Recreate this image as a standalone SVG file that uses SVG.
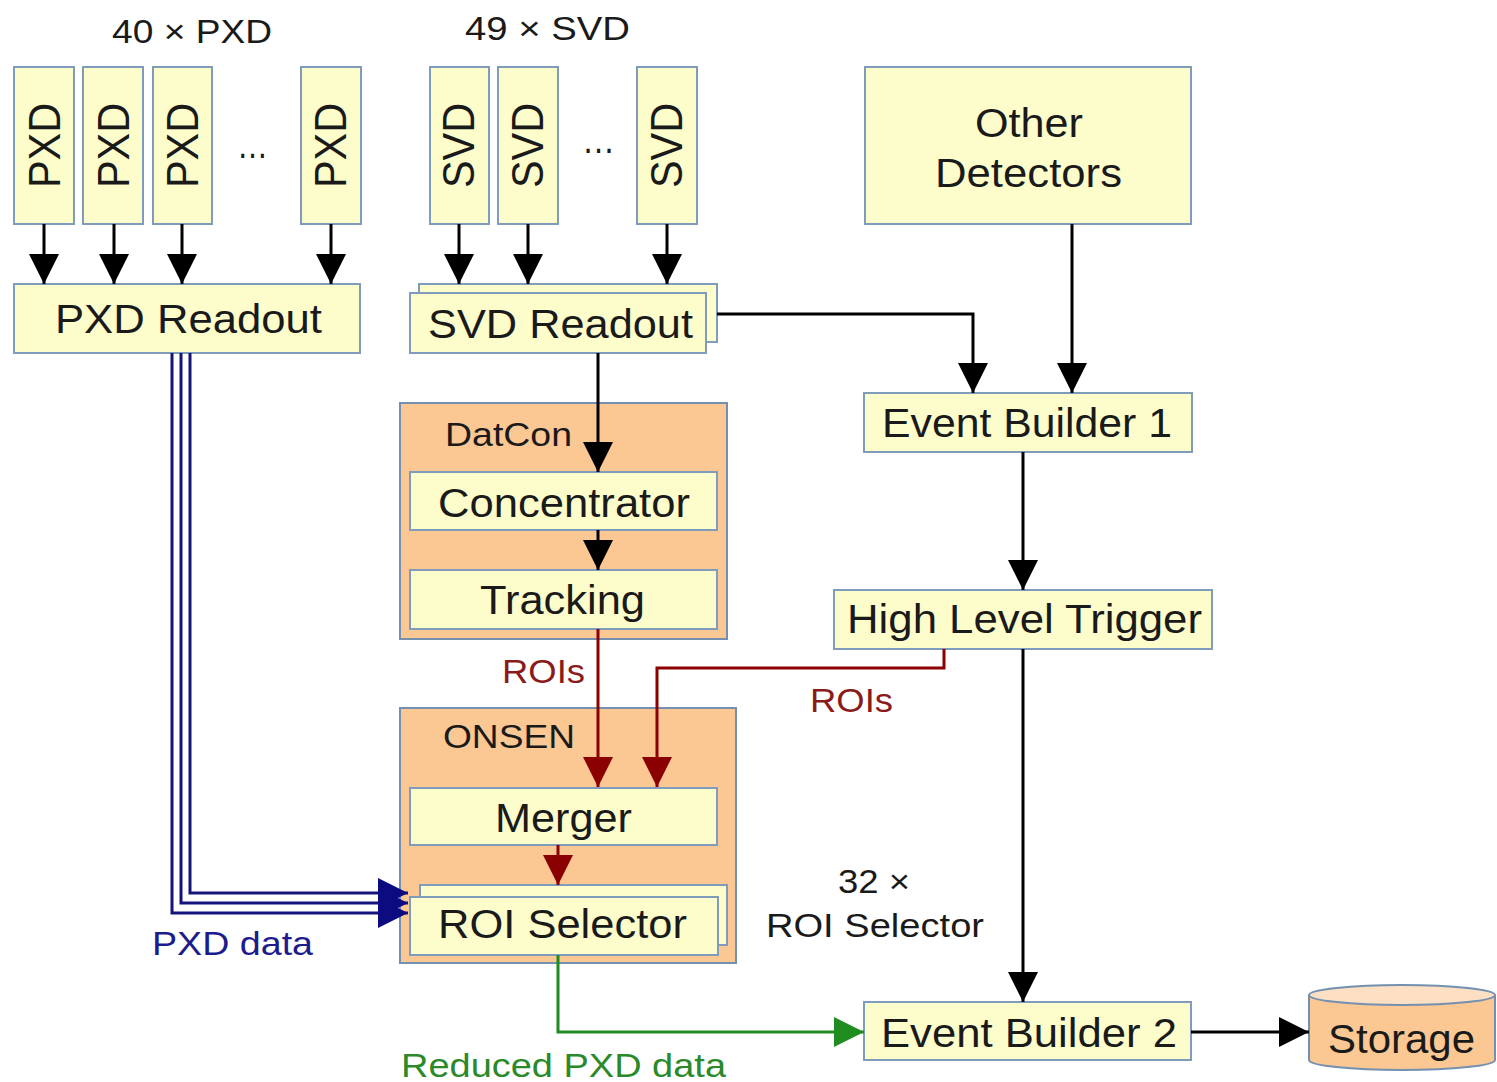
<svg xmlns="http://www.w3.org/2000/svg" width="1497" height="1082" viewBox="0 0 1497 1082">
<style>
.box{fill:#fdfdcb;stroke:#7f9cbc;stroke-width:2}
.grp{fill:#fbc792;stroke:#7390b0;stroke-width:2}
.t{font-family:"Liberation Sans",Arial,sans-serif;fill:#1a1a1a}
.lbl{font-size:41px}
.vt{font-size:45px}
.blk{fill:none;stroke:#000;stroke-width:3}
.red{fill:none;stroke:#8b0000;stroke-width:3}
.blu{fill:none;stroke:#14147a;stroke-width:3}
.grn{fill:none;stroke:#1e8c1e;stroke-width:3}
</style>
<defs>
<marker id="ab" markerUnits="userSpaceOnUse" markerWidth="30" markerHeight="30" refX="30" refY="15" orient="auto"><path d="M0,0 L30,15 L0,30 z" fill="#000"/></marker>
<marker id="ar" markerUnits="userSpaceOnUse" markerWidth="30" markerHeight="30" refX="30" refY="15" orient="auto"><path d="M0,0 L30,15 L0,30 z" fill="#8b0000"/></marker>
<marker id="au" markerUnits="userSpaceOnUse" markerWidth="30" markerHeight="30" refX="30" refY="15" orient="auto"><path d="M0,0 L30,15 L0,30 z" fill="#0c0c80"/></marker>
<marker id="ag" markerUnits="userSpaceOnUse" markerWidth="30" markerHeight="30" refX="30" refY="15" orient="auto"><path d="M0,0 L30,15 L0,30 z" fill="#1e8c1e"/></marker>
</defs>
<rect width="1497" height="1082" fill="#fff"/>

<text class="t" x="112" y="43" font-size="33" textLength="160" lengthAdjust="spacingAndGlyphs">40 × PXD</text>
<text class="t" x="465" y="40" font-size="33" textLength="165" lengthAdjust="spacingAndGlyphs">49 × SVD</text>

<g id="pxd1"><rect class="box" x="14" y="67" width="60" height="157"/><text class="t vt" transform="translate(60,188) rotate(-90)" textLength="85" lengthAdjust="spacingAndGlyphs">PXD</text></g>
<g id="pxd2"><rect class="box" x="83" y="67" width="60" height="157"/><text class="t vt" transform="translate(129,188) rotate(-90)" textLength="85" lengthAdjust="spacingAndGlyphs">PXD</text></g>
<g id="pxd3"><rect class="box" x="153" y="67" width="59" height="157"/><text class="t vt" transform="translate(198,188) rotate(-90)" textLength="85" lengthAdjust="spacingAndGlyphs">PXD</text></g>
<text class="t" x="237" y="158" font-size="40" textLength="31" lengthAdjust="spacingAndGlyphs">…</text>
<g id="pxd4"><rect class="box" x="301" y="67" width="60" height="157"/><text class="t vt" transform="translate(346,188) rotate(-90)" textLength="85" lengthAdjust="spacingAndGlyphs">PXD</text></g>

<g id="svd1"><rect class="box" x="430" y="67" width="59" height="157"/><text class="t vt" transform="translate(474,188) rotate(-90)" textLength="85" lengthAdjust="spacingAndGlyphs">SVD</text></g>
<g id="svd2"><rect class="box" x="498" y="67" width="60" height="157"/><text class="t vt" transform="translate(543,188) rotate(-90)" textLength="85" lengthAdjust="spacingAndGlyphs">SVD</text></g>
<text class="t" x="582" y="153" font-size="40" textLength="33" lengthAdjust="spacingAndGlyphs">…</text>
<g id="svd3"><rect class="box" x="637" y="67" width="60" height="157"/><text class="t vt" transform="translate(682,188) rotate(-90)" textLength="85" lengthAdjust="spacingAndGlyphs">SVD</text></g>

<g id="other"><rect class="box" x="865" y="67" width="326" height="157"/>
<text class="t lbl" x="975" y="137" textLength="108" lengthAdjust="spacingAndGlyphs">Other</text>
<text class="t lbl" x="935" y="187" textLength="187" lengthAdjust="spacingAndGlyphs">Detectors</text></g>

<g id="pxdreadout"><rect class="box" x="14" y="284" width="346" height="69"/><text class="t lbl" x="55" y="333" textLength="267" lengthAdjust="spacingAndGlyphs">PXD Readout</text></g>

<g id="svdreadout"><rect class="box" x="419" y="284" width="298" height="58"/><rect class="box" x="410" y="293" width="296" height="60"/><text class="t lbl" x="428" y="338" textLength="265" lengthAdjust="spacingAndGlyphs">SVD Readout</text></g>

<g id="datcon"><rect class="grp" x="400" y="403" width="327" height="236"/>
<text class="t" x="445" y="446" font-size="34" textLength="127" lengthAdjust="spacingAndGlyphs">DatCon</text></g>
<g id="concentrator"><rect class="box" x="410" y="472" width="307" height="58"/><text class="t lbl" x="438" y="517" textLength="252" lengthAdjust="spacingAndGlyphs">Concentrator</text></g>
<g id="tracking"><rect class="box" x="410" y="570" width="307" height="59"/><text class="t lbl" x="480" y="614" textLength="165" lengthAdjust="spacingAndGlyphs">Tracking</text></g>

<g id="onsen"><rect class="grp" x="400" y="708" width="336" height="255"/>
<text class="t" x="443" y="748" font-size="34" textLength="132" lengthAdjust="spacingAndGlyphs">ONSEN</text></g>
<g id="merger"><rect class="box" x="410" y="788" width="307" height="57"/><text class="t lbl" x="495" y="832" textLength="137" lengthAdjust="spacingAndGlyphs">Merger</text></g>
<g id="roiselector"><rect class="box" x="420" y="885" width="307" height="60"/><rect class="box" x="410" y="897" width="308" height="58"/><text class="t lbl" x="438" y="938" textLength="249" lengthAdjust="spacingAndGlyphs">ROI Selector</text></g>

<g id="eb1"><rect class="box" x="864" y="393" width="328" height="59"/><text class="t lbl" x="882" y="437" textLength="290" lengthAdjust="spacingAndGlyphs">Event Builder 1</text></g>
<g id="hlt"><rect class="box" x="834" y="590" width="378" height="59"/><text class="t lbl" x="847" y="633" textLength="355" lengthAdjust="spacingAndGlyphs">High Level Trigger</text></g>
<g id="eb2"><rect class="box" x="864" y="1002" width="327" height="58"/><text class="t lbl" x="881" y="1047" textLength="296" lengthAdjust="spacingAndGlyphs">Event Builder 2</text></g>

<g id="storage">
<path d="M1309,995 L1309,1060 A93,10 0 0 0 1495,1060 L1495,995" fill="#fbc792" stroke="#7390b0" stroke-width="2"/>
<ellipse cx="1402" cy="995" rx="93" ry="10" fill="#fde0c4" stroke="#7390b0" stroke-width="2"/>
<text class="t lbl" x="1328" y="1053" textLength="147" lengthAdjust="spacingAndGlyphs">Storage</text></g>

<text class="t" x="766" y="937" font-size="33" textLength="218" lengthAdjust="spacingAndGlyphs">ROI Selector</text>
<text class="t" x="838" y="893" font-size="33" textLength="72" lengthAdjust="spacingAndGlyphs">32 ×</text>
<text class="t" x="502" y="683" font-size="34" style="fill:#8b1a1a" textLength="83" lengthAdjust="spacingAndGlyphs">ROIs</text>
<text class="t" x="810" y="712" font-size="34" style="fill:#8b1a1a" textLength="83" lengthAdjust="spacingAndGlyphs">ROIs</text>
<text class="t" x="152" y="955" font-size="34" style="fill:#1c1c8c" textLength="161" lengthAdjust="spacingAndGlyphs">PXD data</text>
<text class="t" x="401" y="1077" font-size="34" style="fill:#2a8a2a" textLength="325" lengthAdjust="spacingAndGlyphs">Reduced PXD data</text>

<g id="connectors">
<path class="blk" d="M44,224 V284" marker-end="url(#ab)"/>
<path class="blk" d="M114,224 V284" marker-end="url(#ab)"/>
<path class="blk" d="M182,224 V284" marker-end="url(#ab)"/>
<path class="blk" d="M331,224 V284" marker-end="url(#ab)"/>
<path class="blk" d="M459,224 V284" marker-end="url(#ab)"/>
<path class="blk" d="M528,224 V284" marker-end="url(#ab)"/>
<path class="blk" d="M667,224 V284" marker-end="url(#ab)"/>
<path class="blk" d="M717,314 H973 V393" marker-end="url(#ab)"/>
<path class="blk" d="M1072,224 V393" marker-end="url(#ab)"/>
<path class="blk" d="M598,353 V472" marker-end="url(#ab)"/>
<path class="blk" d="M598,530 V570" marker-end="url(#ab)"/>
<path class="blk" d="M1023,452 V590" marker-end="url(#ab)"/>
<path class="blk" d="M1023,649 V1002" marker-end="url(#ab)"/>
<path class="blk" d="M1191,1032 H1309" marker-end="url(#ab)"/>
<path class="red" d="M598,629 V787" marker-end="url(#ar)"/>
<path class="red" d="M944,649 V668 H657 V787" marker-end="url(#ar)"/>
<path class="red" d="M558,845 V885" marker-end="url(#ar)"/>
<path class="blu" d="M172,353 V913 H408" marker-end="url(#au)"/>
<path class="blu" d="M181,353 V903 H408" marker-end="url(#au)"/>
<path class="blu" d="M190,353 V893 H408" marker-end="url(#au)"/>
<path class="grn" d="M558,955 V1032 H864" marker-end="url(#ag)"/>
</g>
</svg>
